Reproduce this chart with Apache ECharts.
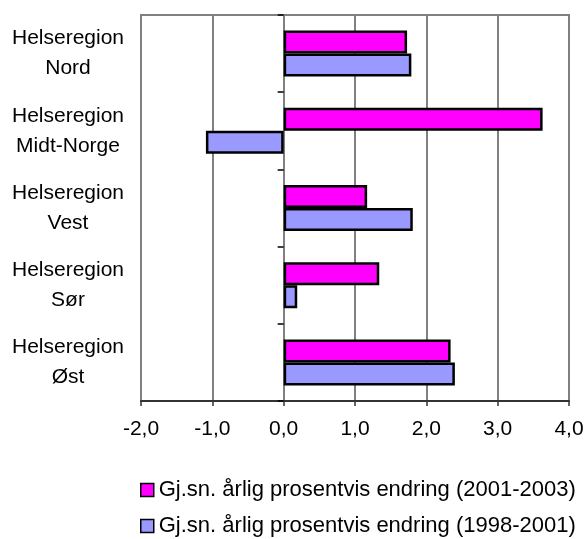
<!DOCTYPE html>
<html>
<head>
<meta charset="utf-8">
<script src="https://cdn.jsdelivr.net/npm/echarts@6/dist/echarts.min.js"></script>
<style>
html,body{margin:0;padding:0;background:#fff;}
#chart{width:587px;height:539px;}
</style>
</head>
<body>
<div id="chart"></div>
<script>
const categories = ['Helseregion\nNord', 'Helseregion\nMidt-Norge', 'Helseregion\nVest', 'Helseregion\nSør', 'Helseregion\nØst'];
const seriesNames = ['Gj.sn. årlig prosentvis endring (2001-2003)', 'Gj.sn. årlig prosentvis endring (1998-2001)'];
const values2001_2003 = [1.73, 3.63, 1.17, 1.34, 2.34];
const values1998_2001 = [1.79, -1.09, 1.81, 0.19, 2.40];
const xTicks = { min: -2, max: 4, interval: 1 };

const FONT = "'Liberation Sans', Arial, sans-serif";
const chart = echarts.init(document.getElementById('chart'), null, { renderer: 'canvas' });
chart.setOption({
  animation: false,
  backgroundColor: '#fff',
  grid: {
    left: 141, right: 18, top: 15, bottom: 138,
    containLabel: false,
    outerBoundsMode: 'none',
    show: true, borderColor: '#808080', borderWidth: 2, backgroundColor: 'transparent'
  },
  xAxis: {
    type: 'value',
    min: xTicks.min, max: xTicks.max, interval: xTicks.interval,
    axisLine: { show: true, onZero: false, lineStyle: { color: '#333', width: 2 } },
    axisTick: { show: true, length: 5, lineStyle: { color: '#333', width: 1.5 } },
    splitLine: { show: true, lineStyle: { color: '#808080', width: 2 } },
    axisLabel: {
      margin: 18, color: '#000', fontFamily: FONT, fontSize: 21,
      formatter: v => v.toFixed(1).replace('.', ',')
    }
  },
  yAxis: [
    {
      type: 'category',
      data: categories,
      inverse: true,
      position: 'left',
      axisLine: { show: false, onZero: false },
      axisTick: { show: false },
      splitLine: { show: false },
      axisLabel: {
        show: true, margin: 73, align: 'center', color: '#000',
        fontFamily: FONT, fontSize: 21, lineHeight: 30, hideOverlap: false
      }
    },
    {
      type: 'category',
      data: categories,
      inverse: true,
      position: 'left',
      axisLine: { show: true, onZero: true, lineStyle: { color: 'rgba(0,0,0,0)' } },
      axisTick: { show: true, length: 6, lineStyle: { color: '#000', width: 1.5 } },
      splitLine: { show: false },
      axisLabel: { show: false }
    }
  ],
  legend: {
    orient: 'vertical',
    left: 140, top: 479,
    padding: 0,
    itemWidth: 13, itemHeight: 13, itemGap: 14,
    icon: 'rect',
    itemStyle: { borderColor: '#000', borderWidth: 1.5 },
    textStyle: { color: '#000', fontFamily: FONT, fontSize: 22 },
    data: seriesNames
  },
  series: [
    {
      name: seriesNames[0], type: 'bar', data: values2001_2003, yAxisIndex: 0,
      barWidth: 23, barGap: '0%',
      itemStyle: { color: '#FF00FF', borderColor: '#000', borderWidth: 2.5 }
    },
    {
      name: seriesNames[1], type: 'bar', data: values1998_2001, yAxisIndex: 0,
      barWidth: 23, barGap: '0%',
      itemStyle: { color: '#9999FF', borderColor: '#000', borderWidth: 2.5 }
    }
  ]
});
</script>
</body>
</html>
